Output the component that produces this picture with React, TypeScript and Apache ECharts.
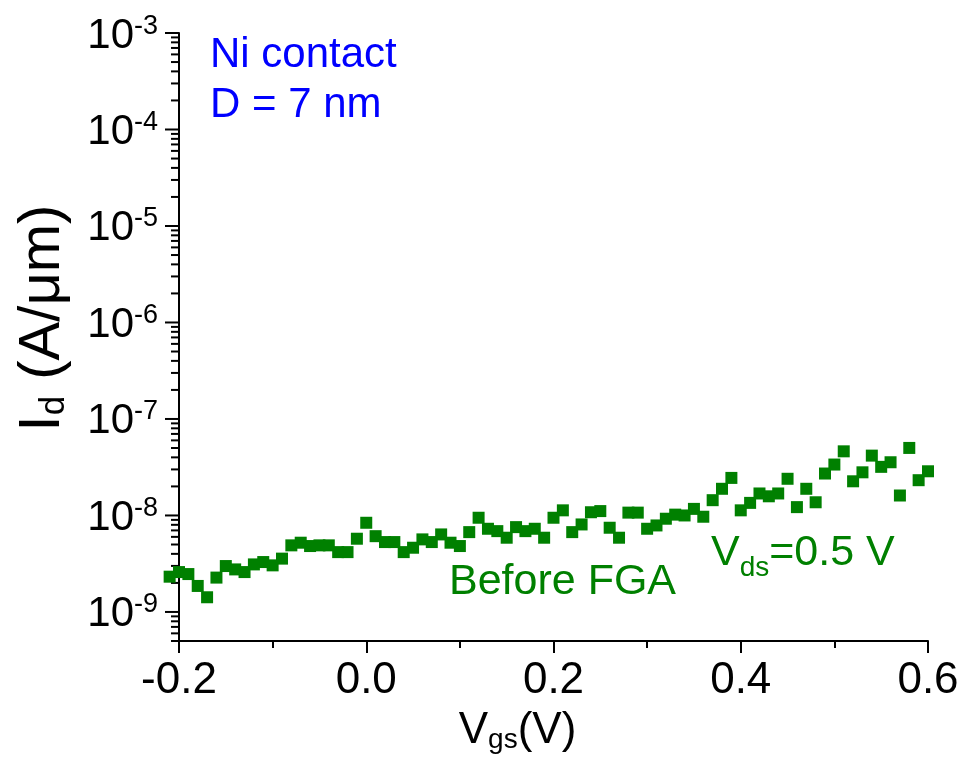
import React, { useEffect, useRef } from 'react';
import * as echarts from 'echarts';

// Gate voltage (V)
const vgs = [
  -0.21, -0.2, -0.19, -0.18, -0.17, -0.16, -0.15, -0.14, -0.13, -0.12, -0.11, -0.1, -0.09,
  -0.08, -0.07, -0.06, -0.05, -0.04, -0.03, -0.02, -0.01, 0.0, 0.01, 0.02, 0.03, 0.04, 0.05,
  0.06, 0.07, 0.08, 0.09, 0.1, 0.11, 0.12, 0.13, 0.14, 0.15, 0.16, 0.17, 0.18, 0.19,
  0.2, 0.21, 0.22, 0.23, 0.24, 0.25, 0.26, 0.27, 0.28, 0.29, 0.3, 0.31, 0.32, 0.33,
  0.34, 0.35, 0.36, 0.37, 0.38, 0.39, 0.4, 0.41, 0.42, 0.43, 0.44, 0.45, 0.46, 0.47,
  0.48, 0.49, 0.5, 0.51, 0.52, 0.53, 0.54, 0.55, 0.56, 0.57, 0.58, 0.59, 0.6,
];

// Drain current (A/um), before FGA
const idBeforeFGA = [
  2.32e-9, 2.59e-9, 2.47e-9, 1.86e-9, 1.42e-9, 2.27e-9, 2.99e-9, 2.76e-9, 2.59e-9, 3.11e-9, 3.29e-9, 3.04e-9, 3.57e-9,
  4.9e-9, 5.22e-9, 4.82e-9, 4.9e-9, 4.9e-9, 4.17e-9, 4.17e-9, 5.74e-9, 8.4e-9, 6.1e-9, 5.3e-9, 5.3e-9, 4.17e-9, 4.63e-9,
  5.65e-9, 5.3e-9, 6.36e-9, 5.22e-9, 4.82e-9, 6.72e-9, 9.47e-9, 7.28e-9, 6.88e-9, 5.88e-9, 7.57e-9, 6.88e-9, 7.28e-9, 5.88e-9,
  9.47e-9, 1.13e-8, 6.72e-9, 8.07e-9, 1.08e-8, 1.11e-8, 7.46e-9, 5.88e-9, 1.07e-8, 1.07e-8, 7.28e-9, 7.88e-9, 9.25e-9, 1.02e-8,
  1.0e-8, 1.17e-8, 9.7e-9, 1.44e-8, 1.89e-8, 2.45e-8, 1.13e-8, 1.35e-8, 1.69e-8, 1.58e-8, 1.69e-8, 2.4e-8, 1.22e-8, 1.89e-8,
  1.37e-8, 2.72e-8, 3.37e-8, 4.62e-8, 2.26e-8, 2.8e-8, 4.17e-8, 3.19e-8, 3.56e-8, 1.61e-8, 5.01e-8, 2.32e-8, 2.87e-8,
];

const xTickLabels = ['-0.2', '0.0', '0.2', '0.4', '0.6'];
const yMajorExponents = [-9, -8, -7, -6, -5, -4, -3];
const yMinorMultipliers = [2, 3, 4, 5, 6, 7, 8, 9];

const X_MIN = -0.2;
const X_MAX = 0.6;
const Y_MIN = 5e-10;
const Y_MAX = 1e-3;

const FONT = "'Liberation Sans', Arial, Helvetica, sans-serif";
const GREEN = '#008000';
const BLUE = '#0000FF';

export default function App() {
  const ref = useRef<HTMLDivElement>(null);

  useEffect(() => {
    const chart = echarts.init(ref.current!, null, { renderer: 'svg' });

    const tickData: number[][] = [];
    yMajorExponents.forEach((e) => tickData.push([X_MIN, Math.pow(10, e), 14]));
    for (let e = -10; e <= -4; e++) {
      yMinorMultipliers.forEach((m) => {
        const v = m * Math.pow(10, e);
        if (v >= Y_MIN * 0.999 && v <= Y_MAX) tickData.push([X_MIN, v, 8]);
      });
    }

    const option: any = {
      animation: false,
      grid: { left: 179, right: 38, top: 33, bottom: 124 },
      xAxis: {
        type: 'value',
        min: X_MIN,
        max: X_MAX,
        interval: 0.2,
        axisLine: { show: true, onZero: false, lineStyle: { color: '#000', width: 2 } },
        axisTick: { show: true, length: 12, lineStyle: { color: '#000', width: 2 } },
        minorTick: { show: true, splitNumber: 2, length: 7, lineStyle: { color: '#000', width: 2 } },
        splitLine: { show: false },
        minorSplitLine: { show: false },
        axisLabel: {
          fontSize: 44,
          color: '#000',
          fontFamily: FONT,
          margin: 14,
          formatter: (v: number) => {
            const i = Math.round((v - X_MIN) / 0.2);
            return xTickLabels[i] ?? v.toFixed(1);
          },
        },
        name: '{a|V}{b|gs}{c|(V)}',
        nameLocation: 'middle',
        nameGap: 62,
        nameTextStyle: {
          rich: {
            a: { fontSize: 44, color: '#000', fontFamily: FONT, verticalAlign: 'middle' },
            b: { fontSize: 28, color: '#000', fontFamily: FONT, verticalAlign: 'middle', padding: [21, 0, 0, 0] },
            c: { fontSize: 44, color: '#000', fontFamily: FONT, verticalAlign: 'middle', padding: [0, 72, 0, 0] },
          },
        },
      },
      yAxis: {
        type: 'log',
        logBase: 10,
        min: Y_MIN,
        max: Y_MAX,
        axisLine: { show: true, onZero: false, lineStyle: { color: '#000', width: 2 } },
        axisTick: { show: false },
        splitLine: { show: false },
        axisLabel: {
          margin: 21,
          formatter: (v: number) => {
            const l = Math.log10(v);
            const e = Math.round(l);
            if (Math.abs(l - e) > 1e-6) return '';
            return `{b|10}{s|${e}}`;
          },
          rich: {
            b: { fontSize: 42, color: '#000', fontFamily: FONT, verticalAlign: 'middle' },
            s: { fontSize: 27, color: '#000', fontFamily: FONT, verticalAlign: 'middle', padding: [0, 0, 17, 0] },
          },
        },
        name: '{i|I}{b|d}{a| (A/μm)}',
        nameLocation: 'middle',
        nameRotate: 90,
        nameGap: 110,
        nameTextStyle: {
          rich: {
            i: { fontSize: 58, color: '#000', fontFamily: FONT, verticalAlign: 'middle', padding: [0, 0, 0, 38] },
            a: { fontSize: 58, color: '#000', fontFamily: FONT, verticalAlign: 'middle' },
            b: { fontSize: 35, color: '#000', fontFamily: FONT, verticalAlign: 'middle', padding: [26, 0, 0, 0] },
          },
        },
      },
      series: [
        {
          type: 'scatter',
          name: 'Before FGA',
          data: vgs.map((x, i) => [x, idBeforeFGA[i]]),
          symbol: 'rect',
          symbolSize: 12,
          clip: false,
          itemStyle: { color: GREEN, opacity: 1 },
          z: 3,
        },
        {
          type: 'custom',
          name: 'yTicks',
          data: tickData,
          clip: false,
          silent: true,
          encode: { x: 0, y: 1 },
          renderItem: (params: any, api: any) => {
            const p = api.coord([api.value(0), api.value(1)]);
            const len = api.value(2);
            return {
              type: 'line',
              shape: { x1: p[0] - len, y1: p[1], x2: p[0], y2: p[1] },
              style: { stroke: '#000', lineWidth: 2 },
            };
          },
          z: 1,
        },
      ],
      graphic: [
        {
          type: 'text',
          x: 210,
          y: 52,
          style: { text: 'Ni contact', fontSize: 42, fontFamily: FONT, fill: BLUE, align: 'left', verticalAlign: 'middle' },
        },
        {
          type: 'text',
          x: 210,
          y: 102,
          style: { text: 'D = 7 nm', fontSize: 42, fontFamily: FONT, fill: BLUE, align: 'left', verticalAlign: 'middle' },
        },
        {
          type: 'text',
          x: 449,
          y: 579,
          style: { text: 'Before FGA', fontSize: 43, fontFamily: FONT, fill: GREEN, align: 'left', verticalAlign: 'middle' },
        },
        {
          type: 'text',
          x: 711,
          y: 550,
          style: {
            text: '{v|V}{s|ds}{v|=0.5 V}',
            align: 'left',
            verticalAlign: 'middle',
            rich: {
              v: { fontSize: 43, fontFamily: FONT, fill: GREEN, verticalAlign: 'middle' },
              s: { fontSize: 28, fontFamily: FONT, fill: GREEN, verticalAlign: 'middle', padding: [32, 0, 0, 0] },
            },
          },
        },
      ],
    };

    chart.setOption(option);
    return () => chart.dispose();
  }, []);

  return <div ref={ref} style={{ position: 'fixed', left: 0, top: 0, width: 966, height: 765 }} />;
}
